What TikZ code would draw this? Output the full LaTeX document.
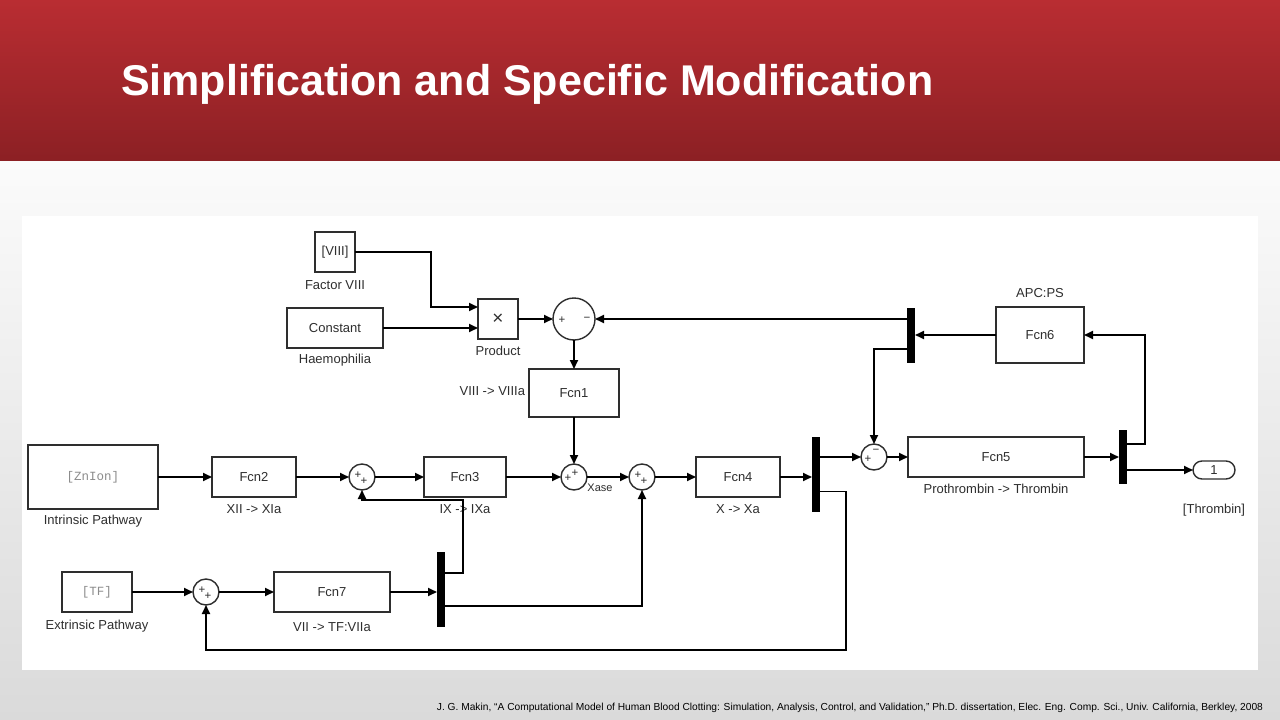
\documentclass[tikz,border=0pt]{standalone}
\usepackage{fontspec}
\setmainfont{Liberation Sans}
\newfontfamily\codefont{Liberation Mono}
\usetikzlibrary{arrows.meta,calc}
\definecolor{hdrtop}{HTML}{B92D32}
\definecolor{hdrbot}{HTML}{8C2024}
\definecolor{bgtop}{HTML}{FBFBFB}
\definecolor{bgbot}{HTML}{DADADA}
\definecolor{inkgray}{HTML}{2E2E2E}
\definecolor{srcgray}{HTML}{8C8C8C}
\begin{document}
\begin{tikzpicture}[x=1pt,y=-1pt,
  every node/.style={outer sep=0pt},
  blk/.style={draw=inkgray, line width=1.4pt, fill=white, inner sep=0pt,
    text=inkgray, font=\fontsize{13}{15}\selectfont},
  sumc/.style={circle, draw=inkgray, line width=1.4pt, fill=white, inner sep=0pt, minimum size=26pt},
  bar/.style={fill=black, draw=none, inner sep=0pt, minimum width=8pt},
  lbl/.style={inner sep=0pt, text=inkgray, font=\fontsize{13}{15}\selectfont},
  sgn/.style={inner sep=0pt, text=inkgray, font=\fontsize{11.5}{12}\selectfont},
  wire/.style={draw=black, line width=1.75pt, -{Triangle[length=9pt,width=8pt]}},
]
\useasboundingbox (0,0) rectangle (1280,720);

% slide background, header band and white panel
\shade[top color=bgtop, bottom color=bgbot] (0,160) rectangle (1280,720);
\shade[top color=hdrtop, bottom color=hdrbot] (0,0) rectangle (1280,160);
\fill[white] (22,216) rectangle (1258,670);

\node[anchor=base west, inner sep=0pt, text=white,
  font=\fontsize{43}{50}\selectfont\bfseries] (title) at (121,95)
  {Simplification and Specific Modification};

% ---- blocks ----
\node[blk, minimum width=40pt, minimum height=40pt] (viii) at (335,252) {[VIII]};
\node[blk, minimum width=96pt, minimum height=40pt] (const) at (335,328) {Constant};
\node[blk, minimum width=40pt, minimum height=40pt, font=\fontsize{19}{20}\selectfont] (prod) at (498,319) {×};
\node[sumc, minimum size=42pt] (sum1) at (574,319) {};
\node[blk, minimum width=90pt, minimum height=48pt] (fcn1) at (574,393) {Fcn1};

\node[blk, minimum width=88pt, minimum height=56pt] (fcn6) at (1040,335) {Fcn6};
\node[bar, minimum height=55pt] (barA) at (911,335) {};
\node[blk, minimum width=176pt, minimum height=40pt] (fcn5) at (996,457) {Fcn5};
\node[sumc] (sum5) at (874,457) {};
\node[bar, minimum height=54pt] (barB) at (1123,457) {};
\node[blk, minimum width=42pt, minimum height=18pt, rounded corners=9pt] (outp) at (1214,470) {1};

\node[blk, minimum width=130pt, minimum height=64pt, text=srcgray,
  font=\codefont\fontsize{12.5}{14}\selectfont] (intr) at (93,477) {[ZnIon]};
\node[blk, minimum width=84pt, minimum height=40pt] (fcn2) at (254,477) {Fcn2};
\node[sumc] (sum2) at (362,477) {};
\node[blk, minimum width=82pt, minimum height=40pt] (fcn3) at (465,477) {Fcn3};
\node[sumc] (sum3) at (574,477) {};
\node[sumc] (sum4) at (642,477) {};
\node[blk, minimum width=84pt, minimum height=40pt] (fcn4) at (738,477) {Fcn4};
\node[bar, minimum height=75pt] (barC) at (816,474.5) {};

\node[blk, minimum width=70pt, minimum height=40pt, text=srcgray,
  font=\codefont\fontsize{12.5}{14}\selectfont] (ext) at (97,592) {[TF]};
\node[sumc] (sum6) at (206,592) {};
\node[blk, minimum width=116pt, minimum height=40pt] (fcn7) at (332,592) {Fcn7};
\node[bar, minimum height=75pt] (barD) at (441,589.5) {};

% ---- signs on the summing junctions ----
\node[sgn] (s1a) at ($(sum1)+(-12,1)$) {+};
\node[sgn] (s1b) at ($(sum1)+(13,0)$) {−};
\node[sgn] (s2a) at ($(sum2)+(-4,-2)$) {+};
\node[sgn] (s2b) at ($(sum2)+(2,4)$) {+};
\node[sgn] (s3a) at ($(sum3)+(-6,1)$) {+};
\node[sgn] (s3b) at ($(sum3)+(1,-4)$) {+};
\node[sgn] (s4a) at ($(sum4)+(-4,-2)$) {+};
\node[sgn] (s4b) at ($(sum4)+(2,4)$) {+};
\node[sgn] (s5a) at ($(sum5)+(-6,2)$) {+};
\node[sgn] (s5b) at ($(sum5)+(2,-6)$) {−};
\node[sgn] (s6a) at ($(sum6)+(-4,-2)$) {+};
\node[sgn] (s6b) at ($(sum6)+(2,4)$) {+};

% ---- block labels ----
\node[lbl] (lviii) at (335,285) {Factor VIII};
\node[lbl] (lconst) at (335,360) {Haemophilia};
\node[lbl] (lprod) at (498,351) {Product};
\node[lbl, anchor=east] (lfcn1) at (525,391) {VIII -> VIIIa};
\node[lbl] (lfcn6) at (1040,293) {APC:PS};
\node[lbl] (lfcn5) at (996,489) {Prothrombin -> Thrombin};
\node[lbl] (loutp) at (1214,510) {[Thrombin]};
\node[lbl] (lintr) at (93,521) {Intrinsic Pathway};
\node[lbl] (lfcn2) at (254,509) {XII -> XIa};
\node[lbl] (lfcn3) at (465,509) {IX -> IXa};
\node[lbl, font=\fontsize{11}{13}\selectfont] (lxase) at (600,488) {Xase};
\node[lbl] (lfcn4) at (738,509) {X -> Xa};
\node[lbl] (lext) at (97,626) {Extrinsic Pathway};
\node[lbl] (lfcn7) at (332,627) {VII -> TF:VIIa};

% ---- signal lines ----
\draw[wire] (viii.east) -- ++(76,0) |- ($(prod.west)+(0,-12)$);
\draw[wire] (const.east) -- (const.east -| prod.west);
\draw[wire] (prod.east) -- (sum1.west);
\draw[wire] (sum1.south) -- (fcn1.north);
\draw[wire] (barA.west |- sum1.east) -- (sum1.east);
\draw[wire] (fcn6.west) -- (barA.east);
\draw[wire] ($(barA.west)+(0,14)$) -| (sum5.north);
\draw[wire] (fcn5.east) -- (barB.west);
\draw[wire] ($(barB.east)+(0,-13)$) -- ++(18,0) |- (fcn6.east);
\draw[wire] ($(barB.east)+(0,13)$) -- (outp.west);

\draw[wire] (intr.east) -- (fcn2.west);
\draw[wire] (fcn2.east) -- (sum2.west);
\draw[wire] (sum2.east) -- (fcn3.west);
\draw[wire] (fcn3.east) -- (sum3.west);
\draw[wire] (fcn1.south) -- (sum3.north);
\draw[wire] (sum3.east) -- (sum4.west);
\draw[wire] (sum4.east) -- (fcn4.west);
\draw[wire] (fcn4.east) -- (fcn4.east -| barC.west);
\draw[wire] (barC.east |- sum5.west) -- (sum5.west);
\draw[wire] (sum5.east) -- (fcn5.west);
\draw[wire] ($(barC.east)+(0,17)$) -| ($(sum6.south)+(640,45)$) -| (sum6.south);

\draw[wire] (ext.east) -- (sum6.west);
\draw[wire] (sum6.east) -- (fcn7.west);
\draw[wire] (fcn7.east) -- (fcn7.east -| barD.west);
\draw[wire] ($(barD.east)+(0,-16.5)$) -- ++(18,0) |- ($(sum2.south)+(0,10)$) -- (sum2.south);
\draw[wire] ($(barD.east)+(0,16.5)$) -| (sum4.south);

% ---- citation ----
\node[anchor=base east, inner sep=0pt, text=black, font=\fontsize{9}{10}\selectfont] (cite) at (1263,710)
  {\resizebox{826pt}{!}{J. G. Makin, “A Computational Model of Human Blood Clotting: Simulation, Analysis, Control, and Validation,” Ph.D. dissertation, Elec. Eng. Comp. Sci., Univ. California, Berkley, 2008}};
\end{tikzpicture}
\end{document}
